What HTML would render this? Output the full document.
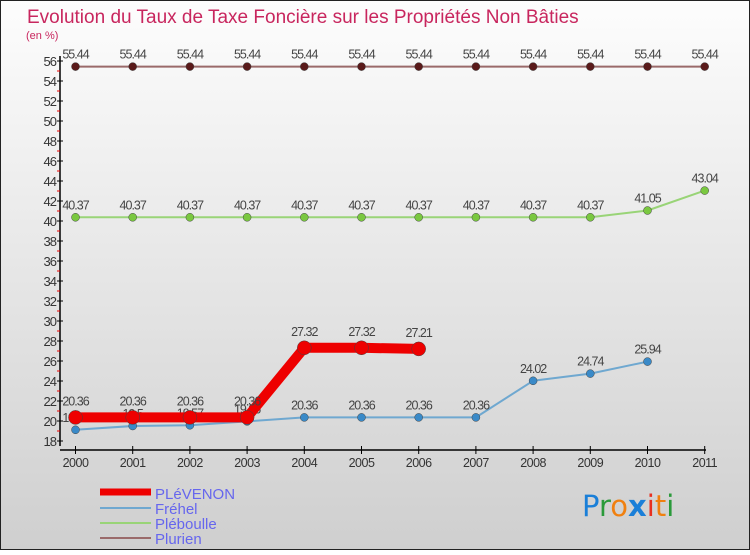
<!DOCTYPE html>
<html><head><meta charset="utf-8"><style>
html,body{margin:0;padding:0}
body{width:750px;height:550px;overflow:hidden;font-family:"Liberation Sans",sans-serif}
</style></head><body>
<svg id="chart" width="750" height="550" xmlns="http://www.w3.org/2000/svg">
<defs><linearGradient id="bg" x1="0" y1="0" x2="0" y2="1"><stop offset="0" stop-color="#fdfdfd"/><stop offset="1" stop-color="#cfcfcf"/></linearGradient></defs>
<rect x="0.5" y="0.5" width="749" height="549" fill="url(#bg)" stroke="#222"/>
<text x="27" y="23" font-size="19" fill="#c8265e">Evolution du Taux de Taxe Foncière sur les Propriétés Non Bâties</text>
<text x="26" y="39" font-size="11" fill="#c8265e">(en %)</text>
<g id="axes"></g><g id="series"></g>
<g>
<line x1="100" y1="492" x2="151" y2="492" stroke="#e00" stroke-width="7"/>
<text x="155" y="499" font-size="15" fill="#6666ee">PLéVENON</text>
<line x1="100" y1="508" x2="151" y2="508" stroke="#6fa8d0" stroke-width="2"/>
<text x="155" y="514" font-size="15" fill="#6666ee">Fréhel</text>
<line x1="100" y1="523" x2="151" y2="523" stroke="#99d477" stroke-width="2"/>
<text x="155" y="529" font-size="15" fill="#6666ee">Pléboulle</text>
<line x1="100" y1="538" x2="151" y2="538" stroke="#9a6a6a" stroke-width="2"/>
<text x="155" y="544" font-size="15" fill="#6666ee">Plurien</text>
</g>
<g font-size="29" font-family="'DejaVu Sans',sans-serif">
<text x="582" y="516"><tspan fill="#1a7fd8">P</tspan><tspan fill="#2a9a3a">r</tspan><tspan fill="#f08010">o</tspan><tspan fill="#1a7fd8" font-weight="bold">x</tspan><tspan fill="#e83020">i</tspan><tspan fill="#f08010">t</tspan><tspan fill="#2a9a3a">i</tspan></text>
</g>
</svg>
<script>
const years=[2000,2001,2002,2003,2004,2005,2006,2007,2008,2009,2010,2011];
const yTicks=[18,20,22,24,26,28,30,32,34,36,38,40,42,44,46,48,50,52,54,56];
const plevenon=[20.36,20.36,20.36,20.36,27.32,27.32,27.21];
const frehel=[19.12,19.5,19.57,19.96,20.36,20.36,20.36,20.36,24.02,24.74,25.94];
const pleboulle=[40.37,40.37,40.37,40.37,40.37,40.37,40.37,40.37,40.37,40.37,41.05,43.04];
const plurien=[55.44,55.44,55.44,55.44,55.44,55.44,55.44,55.44,55.44,55.44,55.44,55.44];
const NS='http://www.w3.org/2000/svg';
const xs=i=>75.5+i*57.2;
const ys=v=>441-(v-18)*10;
function mk(tag,attrs,parent){const e=document.createElementNS(NS,tag);for(const k in attrs)e.setAttribute(k,attrs[k]);parent.appendChild(e);return e;}
const ax=document.getElementById('axes');
let e=mk('line',{x1:60,y1:56,x2:60,y2:446,stroke:'#000','stroke-width':1.5},ax);


e=mk('line',{x1:60,y1:450,x2:706,y2:450,stroke:'#000','stroke-width':1.5},ax);


yTicks.forEach(v=>{
  mk('line',{x1:57,y1:ys(v),x2:63,y2:ys(v),stroke:'#000'},ax);
  if(v<56)mk('line',{x1:57,y1:ys(v+1),x2:60,y2:ys(v+1),stroke:'#e00'},ax);
  const t=mk('text',{x:56,y:ys(v)+5,'font-size':13,fill:'#333','text-anchor':'end','letter-spacing':'-1'},ax);
  t.textContent=v;
  
  
});
years.forEach((y,i)=>{
  mk('line',{x1:xs(i),y1:446,x2:xs(i),y2:454,stroke:'#000'},ax);
  const t=mk('text',{x:xs(i),y:467,'font-size':12.5,fill:'#333','text-anchor':'middle','letter-spacing':'-0.5'},ax);
  t.textContent=y;
  
  
});
const sg=document.getElementById('series');
function series(name,vals,color,dot,w,r,dy){
  const g=mk('g',{},sg);
  
  
  const p=mk('polyline',{points:vals.map((v,i)=>xs(i)+','+ys(v)).join(' '),fill:'none',stroke:color,'stroke-width':w,'stroke-linejoin':'round'},g);
  
  
  vals.forEach((v,i)=>{
    const c=mk('circle',{cx:xs(i),cy:ys(v),r:r,fill:dot,stroke:'#444','stroke-width':0.5},g);
    
    
    const t=mk('text',{x:xs(i),y:ys(v)+dy,'font-size':12.5,fill:'#444','text-anchor':'middle','letter-spacing':'-1'},g);
    t.textContent=v;
    
    
  });
}
series('plurien',plurien,'#9a6a6a','#5a1a1a',2,4,-8);
series('pleboulle',pleboulle,'#99d477','#7ac840',2,4,-8);
series('frehel',frehel,'#6fa8d0','#3a8ac8',2,4,-8);
series('plevenon',plevenon,'#e00','#e00',10,7,-12);
</script>
</body></html>
